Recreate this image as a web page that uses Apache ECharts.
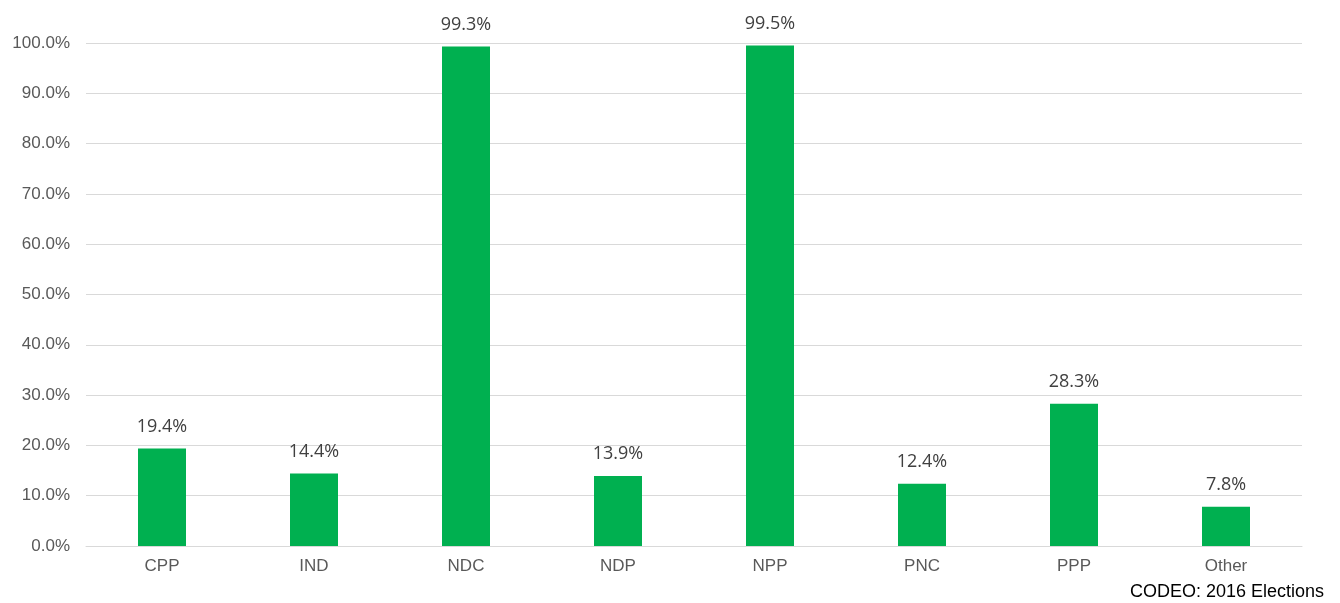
<!DOCTYPE html>
<html><head><meta charset="utf-8">
<script src="https://cdn.jsdelivr.net/npm/echarts@6/dist/echarts.min.js"></script>
<style>html,body{margin:0;padding:0;background:#fff}#c{width:1340px;height:603px}</style>
</head><body><div id="c"></div>
<script>
const categories = ["CPP","IND","NDC","NDP","NPP","PNC","PPP","Other"];
const values = [19.4,14.4,99.3,13.9,99.5,12.4,28.3,7.8];
const sourceText = "CODEO: 2016 Elections";

const chart = echarts.init(document.getElementById('c'));
chart.setOption({
  animation:false,
  backgroundColor:'#fff',
  grid:{left:86,right:38,top:43,bottom:57,containLabel:false},
  xAxis:{type:'category',data:categories,
    axisLine:{show:true,lineStyle:{color:'#d9d9d9',width:1}},
    axisTick:{show:false},
    axisLabel:{color:'#595959',fontSize:17,fontFamily:'Liberation Sans, Arial',margin:12}},
  yAxis:{type:'value',min:0,max:100,interval:10,
    axisLine:{show:false},axisTick:{show:false},
    splitLine:{lineStyle:{color:'#d9d9d9',width:1}},
    axisLabel:{color:'#595959',fontSize:17,fontFamily:'Liberation Sans, Arial',margin:16,
      formatter:v=>v.toFixed(1)+'%'}},
  series:[{type:'bar',data:values,barWidth:48,
    itemStyle:{color:'#00B050'},
    label:{show:true,position:'top',distance:13,color:'#404040',fontSize:18,fontFamily:'Open Sans',
      formatter:p=>p.value.toFixed(1)+'%'}}],
  graphic:[{type:'text',right:16,top:583,style:{text:sourceText,fill:'#000',fontSize:18,fontFamily:'Liberation Sans, Arial'}}]
});
</script></body></html>
